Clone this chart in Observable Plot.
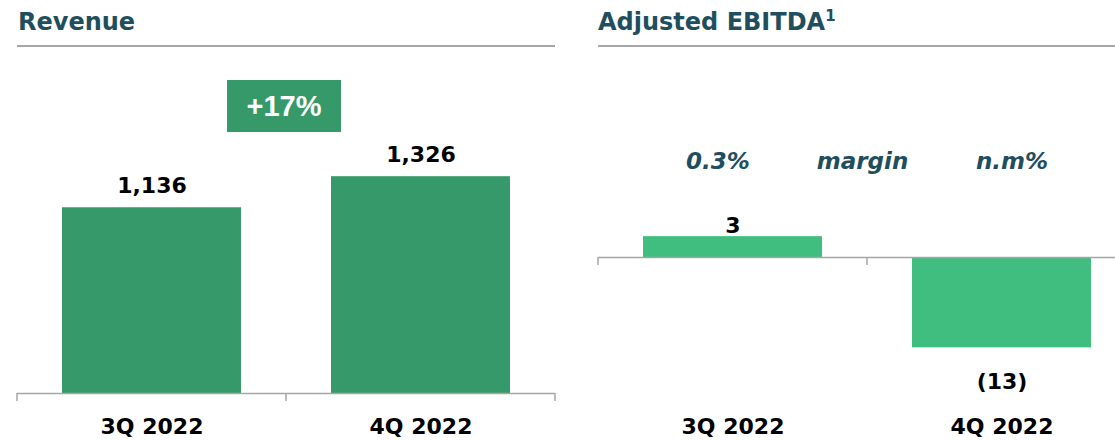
<!DOCTYPE html>
<html>
<head>
<meta charset="utf-8">
<script src="https://cdn.jsdelivr.net/npm/d3@7"></script>
<script src="https://cdn.jsdelivr.net/npm/@observablehq/plot@0.6"></script>
<style>
  html, body { margin: 0; padding: 0; background: #fff; overflow: hidden; }
  #wrap { position: relative; width: 1115px; height: 440px; overflow: hidden; font-family: "DejaVu Sans", sans-serif; }
  .title { position: absolute; top: 8px; font: bold 24px "DejaVu Sans", sans-serif; color: #1F4E5E; white-space: nowrap; }
  .title sup { font-size: 15px; vertical-align: 0; position: relative; top: -9px; }
  .rule { position: absolute; top: 45px; height: 2px; background: #A6A6A6; }
  .panel { position: absolute; top: 0; height: 440px; }
  .panel svg { max-width: none !important; display: block; }
  #badge { position: absolute; left: 227px; top: 80px; width: 114px; height: 52px; background: #35996A;
           color: #fff; font: bold 29px "Liberation Sans", Arial, sans-serif; text-align: center; line-height: 52px; }
</style>
</head>
<body>
<div id="wrap">
  <div class="title" style="left:18px">Revenue</div>
  <div class="rule" style="left:17px;width:538px"></div>
  <div class="title" style="left:598px">Adjusted EBITDA<sup>1</sup></div>
  <div class="rule" style="left:598px;width:517px"></div>
  <div class="panel" id="left" style="left:0px;width:560px"></div>
  <div class="panel" id="right" style="left:560px;width:576px"></div>
  <div id="badge">+17%</div>
</div>
<script>
// ---- data ----
const quarters = ["3Q 2022", "4Q 2022"];
const revenue = [1136, 1326];
const ebitda = [3, -13];
const marginLabels = ["0.3%", "n.m%"];
const marginWord = ["margin"];
const revenueGrowth = "+17%";

document.getElementById("badge").textContent = revenueGrowth;

const revRows = quarters.map((q, i) => ({quarter: q, value: revenue[i]}));
const ebRows = quarters.map((q, i) => ({quarter: q, value: ebitda[i], margin: marginLabels[i]}));

const axisGray = "#A6A6A6";
const teal = "#1F4E5E";

// tick marks at frame left, frame centre and frame right (band boundaries)
function boundaryTicks(index, scales, values, dims) {
  const g = d3.create("svg:g");
  const y0 = scales.y(0);
  const xs = [dims.marginLeft, (dims.marginLeft + dims.width - dims.marginRight) / 2, dims.width - dims.marginRight];
  for (const x of xs) {
    g.append("line").attr("x1", x).attr("x2", x).attr("y1", y0).attr("y2", y0 + 8)
      .attr("stroke", axisGray).attr("stroke-width", 1.5);
  }
  return g.node();
}

const fmtRev = d3.format(",");
const fmtEb = v => v < 0 ? `(${-v})` : `${v}`;

const left = Plot.plot({
  width: 560, height: 440,
  marginLeft: 17, marginRight: 5, marginTop: 66, marginBottom: 47,
  style: {fontFamily: "DejaVu Sans, sans-serif", color: "#000", background: "transparent"},
  x: {domain: quarters, paddingInner: 0.335, paddingOuter: 0.1675, label: null},
  y: {domain: [0, 2000], axis: null},
  marks: [
    Plot.barY(revRows, {x: "quarter", y: "value", fill: "#35996A"}),
    Plot.ruleY([0], {stroke: axisGray, strokeWidth: 1.5}),
    boundaryTicks,
    Plot.text(revRows, {x: "quarter", y: "value", text: d => fmtRev(d.value), lineAnchor: "bottom", dy: -15,
      fontSize: 22, fontWeight: "bold", fill: "#000"}),
    Plot.axisX({tickSize: 0, tickPadding: 25, fontSize: 22, fontWeight: "bold", label: null})
  ]
});
document.getElementById("left").appendChild(left);

const right = Plot.plot({
  width: 576, height: 440,
  marginLeft: 38, marginRight: 0, marginTop: 118, marginBottom: 44,
  style: {fontFamily: "DejaVu Sans, sans-serif", color: "#000", background: "transparent", overflow: "visible"},
  x: {domain: quarters, paddingInner: 0.335, paddingOuter: 0.1675, label: null},
  y: {domain: [-20, 20], axis: null},
  marks: [
    Plot.barY(ebRows, {x: "quarter", y: "value", fill: "#3FBE7F"}),
    Plot.ruleY([0], {stroke: axisGray, strokeWidth: 1.5}),
    boundaryTicks,
    Plot.text(ebRows.filter(d => d.value >= 0), {x: "quarter", y: "value", text: d => fmtEb(d.value),
      lineAnchor: "bottom", dy: -4, fontSize: 22, fontWeight: "bold", fill: "#000"}),
    Plot.text(ebRows.filter(d => d.value < 0), {x: "quarter", y: "value", text: d => fmtEb(d.value),
      lineAnchor: "bottom", dy: 41, fontSize: 22, fontWeight: "bold", fill: "#000"}),
    Plot.text(ebRows.slice(0, 1), {x: "quarter", text: "margin", frameAnchor: "top", lineAnchor: "bottom", dy: 50, dx: -15,
      fontSize: 23, fontWeight: "bold", fontStyle: "italic", fill: teal}),
    Plot.text(ebRows.slice(1), {x: "quarter", text: "margin", frameAnchor: "top", lineAnchor: "bottom", dy: 50, dx: 10,
      fontSize: 23, fontWeight: "bold", fontStyle: "italic", fill: teal}),
    Plot.text(marginWord, {text: d => d, frameAnchor: "top", lineAnchor: "bottom", dy: 50, dx: -5,
      fontSize: 23, fontWeight: "bold", fontStyle: "italic", fill: teal}),
    Plot.axisX({tickSize: 0, tickPadding: 22, fontSize: 22, fontWeight: "bold", label: null})
  ]
});
document.getElementById("right").appendChild(right);
</script>
</body>
</html>
